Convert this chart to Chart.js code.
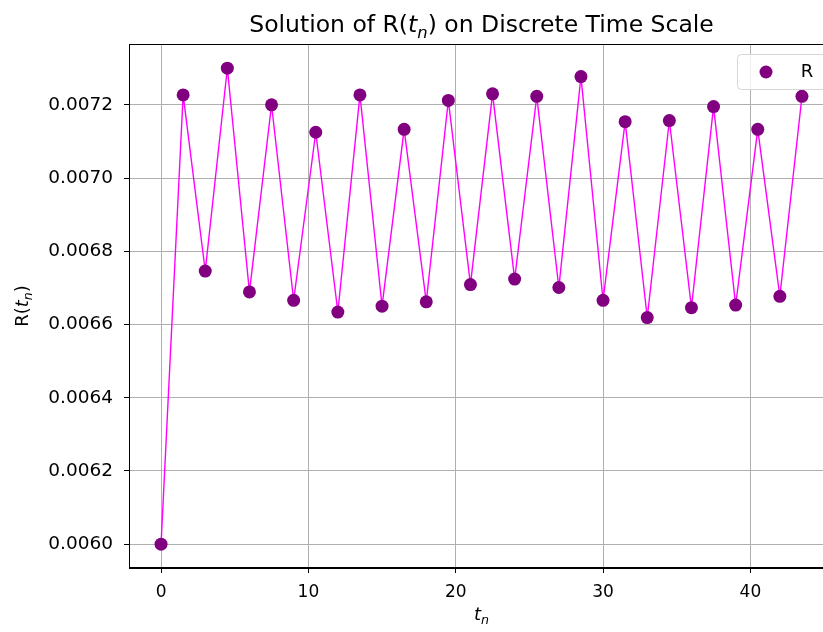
<!DOCTYPE html>
<html>
<head>
<meta charset="utf-8">
<script src="https://cdn.jsdelivr.net/npm/chart.js@4.4.1/dist/chart.umd.min.js"></script>
<style>
  html, body { margin: 0; padding: 0; background: #fff; overflow: hidden; }
  #wrap { width: 845px; height: 632px; position: relative; }
</style>
</head>
<body>
<div id="wrap"><canvas id="chartR"></canvas></div>
<script>
// time points t_n and solution values R(t_n)
const tValues = [0, 1.5, 3, 4.5, 6, 7.5, 9, 10.5, 12, 13.5, 15, 16.5, 18, 19.5, 21,
                 22.5, 24, 25.5, 27, 28.5, 30, 31.5, 33, 34.5, 36, 37.5, 39, 40.5, 42, 43.5];
const rValues = [0.006000, 0.007227, 0.006746, 0.007300, 0.006689, 0.007200, 0.006666, 0.007125,
                 0.006634, 0.007227, 0.006650, 0.007133, 0.006662, 0.007212, 0.006709,
                 0.007230, 0.006724, 0.007223, 0.006701, 0.007277, 0.006666, 0.007154,
                 0.006619, 0.007157, 0.006646, 0.007195, 0.006653, 0.007133, 0.006677, 0.007223];
const xTicks = [0, 10, 20, 30, 40];
const yTicks = [0.0060, 0.0062, 0.0064, 0.0066, 0.0068, 0.0070, 0.0072];

const points = tValues.map((t, i) => ({x: t, y: rValues[i]}));
const FONT = "'DejaVu Sans', sans-serif";

// draws title, axis labels (italic t with subscript n), frame and legend box
const decor = {
    id: "decor",
    afterDraw(chart) {
        const ctx = chart.ctx;
        const a = chart.chartArea;
        ctx.save();

        // frame
        ctx.strokeStyle = "#000";
        ctx.lineWidth = 1;
        ctx.strokeRect(a.left + 0.5, a.top + 0.5, a.right - a.left - 1, a.bottom - a.top - 1);

        // text with R(t_n) style pieces
        function pieces(parts, size) {
            let w = 0;
            parts.forEach(p => {
                const s = p.sub ? size * 0.7 : size;
                ctx.font = (p.it ? "italic " : "") + s + "px " + FONT;
                p.w = ctx.measureText(p.s).width;
                p.size = s;
                w += p.w;
            });
            return w;
        }
        function drawPieces(parts, x, y) {
            parts.forEach(p => {
                ctx.font = (p.it ? "italic " : "") + p.size + "px " + FONT;
                ctx.fillText(p.s, x, y + (p.sub ? p.size * 0.35 : 0));
                x += p.w;
            });
        }
        ctx.fillStyle = "#000";
        ctx.textBaseline = "alphabetic";
        ctx.textAlign = "left";

        const title = [{s: "Solution of R("}, {s: "t", it: true}, {s: "n", it: true, sub: true},
                       {s: ") on Discrete Time Scale"}];
        const tw = pieces(title, 23.5);
        drawPieces(title, (a.left + 834) / 2 - tw / 2, 32);

        const xl = [{s: "t", it: true}, {s: "n", it: true, sub: true}];
        const xw = pieces(xl, 18);
        drawPieces(xl, (a.left + 834) / 2 - xw / 2, 620);

        const yl = [{s: "R("}, {s: "t", it: true}, {s: "n", it: true, sub: true}, {s: ")"}];
        const yw = pieces(yl, 18);
        ctx.translate(28, (a.top + a.bottom) / 2);
        ctx.rotate(-Math.PI / 2);
        drawPieces(yl, -yw / 2, 0);
        ctx.setTransform(1, 0, 0, 1, 0, 0);

        // legend
        const lx = 737, ly = 54, lw = 90, lh = 35;
        ctx.beginPath();
        ctx.roundRect(lx + 0.5, ly + 0.5, lw, lh, 4);
        ctx.fillStyle = "rgba(255,255,255,0.8)";
        ctx.fill();
        ctx.strokeStyle = "#d6d6d6";
        ctx.stroke();
        ctx.beginPath();
        ctx.arc(766, 72, 6.5, 0, Math.PI * 2);
        ctx.fillStyle = "#800080";
        ctx.fill();
        ctx.fillStyle = "#000";
        ctx.font = "18px " + FONT;
        ctx.textAlign = "center";
        ctx.textBaseline = "middle";
        ctx.fillText("R", 807, 72);

        ctx.restore();
    }
};

new Chart(document.querySelector("#chartR"), {
    type: "scatter",
    data: {
        datasets: [
            {
                label: "R",
                data: points,
                backgroundColor: "#800080",
                borderColor: "#800080",
                pointRadius: 6.5,
                pointHoverRadius: 6.5,
                borderWidth: 0,
                order: 0
            },
            {
                type: "line",
                label: "line",
                data: points,
                borderColor: "#ff00ff",
                borderWidth: 1.4,
                pointRadius: 0,
                fill: false,
                tension: 0,
                order: 1
            }
        ]
    },
    options: {
        responsive: true,
        maintainAspectRatio: false,
        animation: false,
        layout: { padding: { top: 44, right: 11, left: 0, bottom: 0 } },
        plugins: {
            legend: { display: false },
            title: { display: false },
            tooltip: { enabled: false }
        },
        scales: {
            x: {
                type: "linear",
                min: -2.175,
                max: 45.675,
                afterBuildTicks: s => { s.ticks = xTicks.map(v => ({value: v})); },
                afterFit: s => { s.height = 64; },
                ticks: {
                    color: "#000",
                    font: { family: FONT, size: 17 },
                    padding: 9,
                    maxRotation: 0,
                    callback: v => String(v)
                },
                grid: { color: "#b0b0b0", lineWidth: 1, tickColor: "#000", tickLength: 5, tickWidth: 1 },
                border: { display: true, color: "#000", width: 1 }
            },
            y: {
                type: "linear",
                min: 0.005935,
                max: 0.007366,
                afterBuildTicks: s => { s.ticks = yTicks.map(v => ({value: v})); },
                afterFit: s => { s.width = 129; },
                ticks: {
                    color: "#000",
                    font: { family: FONT, size: 18.5 },
                    padding: 11,
                    callback: v => v.toFixed(4)
                },
                grid: { color: "#b0b0b0", lineWidth: 1, tickColor: "#000", tickLength: 5, tickWidth: 1 },
                border: { display: true, color: "#000", width: 1 }
            }
        }
    },
    plugins: [decor]
});
</script>
</body>
</html>
